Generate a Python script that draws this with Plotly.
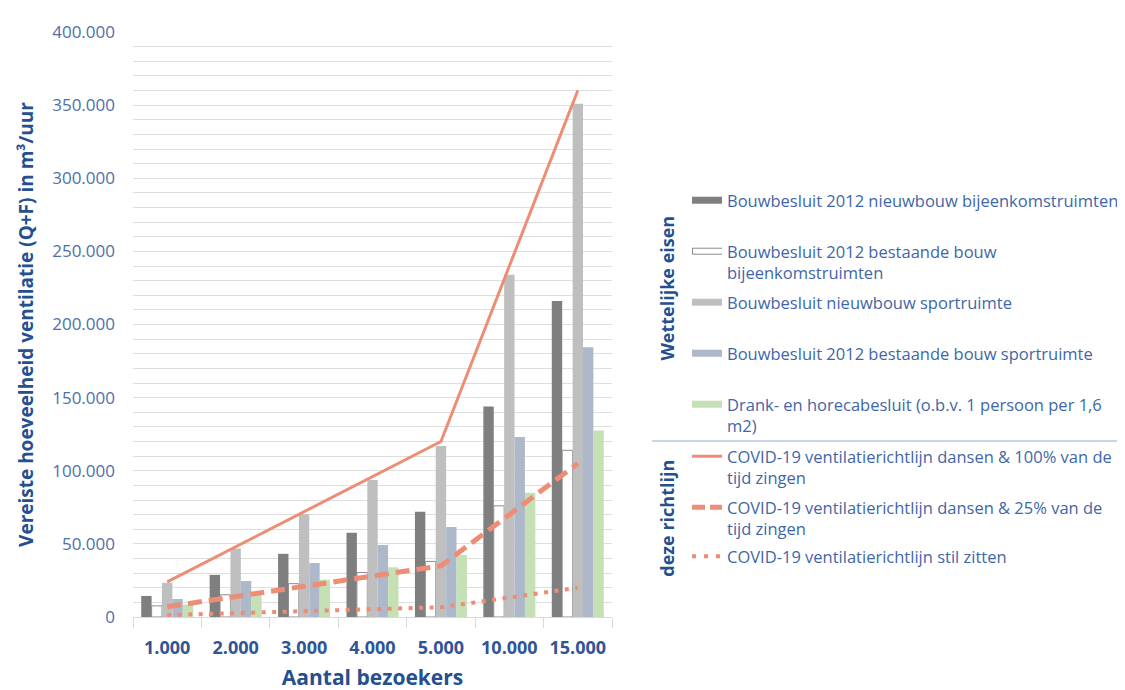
import plotly.graph_objects as go

# ---------------- data ----------------
categories = ["1.000", "2.000", "3.000", "4.000", "5.000", "10.000", "15.000"]

bb_nieuw_bijeenkomst = [14400, 28800, 43200, 57600, 72000, 144000, 216000]
bb_bestaand_bijeenkomst = [7600, 15200, 22800, 30400, 38000, 76000, 114000]
bb_nieuw_sport = [23400, 46800, 70200, 93600, 117000, 234000, 351000]
bb_bestaand_sport = [12300, 24600, 36900, 49200, 61500, 123000, 184500]
drank_horeca = [8500, 17000, 25500, 34000, 42500, 85000, 127500]

covid_100 = [24000, 48000, 72000, 96000, 120000, 240000, 360000]
covid_25 = [7000, 14000, 21000, 28000, 35000, 70000, 105000]
covid_stil = [1330, 2670, 4000, 5330, 6670, 13330, 20000]

names = [
    "Bouwbesluit 2012 nieuwbouw bijeenkomstruimten",
    "Bouwbesluit 2012 bestaande bouw<br>bijeenkomstruimten",
    "Bouwbesluit nieuwbouw sportruimte",
    "Bouwbesluit 2012 bestaande bouw sportruimte",
    "Drank- en horecabesluit (o.b.v. 1 persoon per 1,6<br>m2)",
    "COVID-19 ventilatierichtlijn dansen & 100% van de<br>tijd zingen",
    "COVID-19 ventilatierichtlijn dansen & 25% van de<br>tijd zingen",
    "COVID-19 ventilatierichtlijn stil zitten",
]

# ---------------- style ----------------
W, H = 1125, 690
OFF = 8  # page body margin
PL, PR, PT, PB = 133, 612, 22, 617  # plot area in reference pixels
FONT = "Open Sans"
C_DARK = "#7f7f7f"
C_LIGHT = "#bfbfbf"
C_BLUE = "#adb9ca"
C_GREEN = "#c5e0b4"
C_LINE = "#ee8d75"
C_TXT = "#3f66a8"
C_TITLE = "#24508f"

fig = go.Figure()

bar_series = [
    (bb_nieuw_bijeenkomst, C_DARK, C_DARK, 0),
    (bb_bestaand_bijeenkomst, "#ffffff", "#8c8c8c", 1),
    (bb_nieuw_sport, C_LIGHT, C_LIGHT, 0),
    (bb_bestaand_sport, C_BLUE, C_BLUE, 0),
    (drank_horeca, C_GREEN, C_GREEN, 0),
]
for i, (vals, col, lcol, lw) in enumerate(bar_series):
    fig.add_trace(go.Bar(
        x=categories, y=vals, name=names[i], showlegend=False,
        marker=dict(color=col, line=dict(color=lcol, width=lw)),
    ))

line_series = [
    (covid_100, dict(color=C_LINE, width=3)),
    (covid_25, dict(color=C_LINE, width=5, dash="14px,7px")),
    (covid_stil, dict(color=C_LINE, width=4, dash="4px,6.5px")),
]
for j, (vals, ln) in enumerate(line_series):
    fig.add_trace(go.Scatter(
        x=categories, y=vals, mode="lines", name=names[5 + j],
        line=ln, showlegend=False,
    ))

# legend-only entries (one legend per item for exact placement)
leg_centers = [200, 251, 302, 353, 404, 456, 507, 556]
leg_lines = [
    dict(color=C_DARK, width=7),
    dict(color="#8c8c8c", width=7),
    dict(color=C_LIGHT, width=7),
    dict(color=C_BLUE, width=7),
    dict(color=C_GREEN, width=7),
    dict(color=C_LINE, width=3),
    dict(color=C_LINE, width=5, dash="13px,5px"),
    dict(color=C_LINE, width=4, dash="4px,8px"),
]
LEG_X = 687
LEG_FS = 16.5


def cx(px):
    return (px - OFF) / W


def cy(py):
    return 1 - (py - OFF) / H


def legend_cfg(xpx, center):
    return dict(
        xref="container", yref="container",
        x=cx(xpx), y=cy(center - 17),
        xanchor="left", yanchor="top", valign="top",
        bgcolor="rgba(0,0,0,0)", borderwidth=0,
        font=dict(family=FONT, size=LEG_FS, color=C_TXT),
        itemclick=False, itemdoubleclick=False,
    )


for k in range(8):
    lname = "legend" if k == 0 else f"legend{k + 1}"
    fig.add_trace(go.Scatter(
        x=[None], y=[None], mode="lines", name=names[k],
        line=leg_lines[k], legend=lname, hoverinfo="skip",
    ))
    fig.update_layout({lname: legend_cfg(LEG_X, leg_centers[k])})

# white overlay for the outlined legend symbol
fig.add_trace(go.Scatter(
    x=[None], y=[None], mode="lines", name=" ",
    line=dict(color="#ffffff", width=5), legend="legend9", hoverinfo="skip",
))
fig.update_layout(legend9=legend_cfg(LEG_X + 1, leg_centers[1]))


def px_x(px):
    return (px - PL) / (PR - PL)


def px_y(py):
    return (PB - py) / (PB - PT)


fig.add_shape(type="line", xref="paper", yref="paper",
              x0=px_x(652), x1=px_x(1125 + OFF), y0=px_y(438), y1=px_y(438),
              line=dict(color="#8faadc", width=1))

for txt, yc in [("<b>Wettelijke eisen</b>", 283), ("<b>deze richtlijn</b>", 517)]:
    fig.add_annotation(text=txt, xref="paper", yref="paper",
                       x=px_x(667), y=px_y(yc), xanchor="center", yanchor="middle",
                       textangle=-90, showarrow=False,
                       font=dict(family=FONT, size=18, color=C_TITLE))

fig.update_layout(
    width=W, height=H,
    margin=dict(l=PL - OFF, r=W - (PR - OFF), t=PT - OFF, b=H - (PB - OFF), pad=0),
    paper_bgcolor="white", plot_bgcolor="white",
    barmode="group", bargap=0.24, bargroupgap=0,
    separators=",.",
    font=dict(family=FONT, color=C_TXT),
    xaxis=dict(
        type="category", showgrid=False, showline=True, linecolor="#d9d9d9",
        linewidth=1, ticks="outside", tickson="boundaries", ticklen=10,
        tickcolor="#d9d9d9", ticklabelstandoff=14,
        tickfont=dict(family=FONT, size=18, color="#2f5597", weight="bold"),
        title=dict(text="<b>Aantal bezoekers</b>", standoff=12,
                   font=dict(family=FONT, size=21, color=C_TITLE)),
    ),
    yaxis=dict(
        range=[0, 400000], dtick=50000, tickformat=",d",
        showgrid=True, gridcolor="#dedede", gridwidth=1,
        minor=dict(dtick=10000, showgrid=True, gridcolor="#dedede", gridwidth=1),
        showline=False, zeroline=False, ticks="", ticklabelstandoff=17,
        tickfont=dict(family=FONT, size=17, color="#4d70ab"),
        title=dict(text="<b>Vereiste hoeveelheid ventilatie (Q+F) in m³/uur</b>",
                   standoff=13, font=dict(family=FONT, size=19, color=C_TITLE)),
    ),
)

fig.write_html("out.html")
